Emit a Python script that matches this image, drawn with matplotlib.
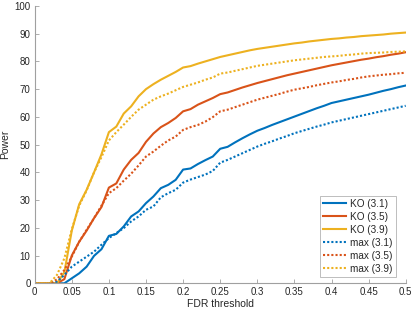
import numpy as np
import matplotlib
matplotlib.use("Agg")
import matplotlib.pyplot as plt

fdr = [round(0.01 * i, 2) for i in range(51)]

ko_31 = [0, 0, 0, 0, 0, 1.8, 3.6, 6, 9.9, 12.3, 17.1, 17.8, 20.5, 24.1, 25.9, 28.9, 31.3, 34.3, 35.5, 37.3,
         41, 41.4, 43, 44.4, 45.7, 48.5, 49.2, 50.8, 52.3, 53.7, 55, 56, 57.1, 58.1, 59.1, 60.1, 61.1, 62.1,
         63.1, 64, 65, 65.6, 66.2, 66.8, 67.4, 68, 68.7, 69.4, 70, 70.7, 71.3]
ko_35 = [0, 0, 0, 0, 1.5, 10, 15, 19, 23.5, 27.5, 34.5, 36, 41, 44.5, 47, 51, 54, 56.3, 57.8, 59.6,
         62, 62.8, 64.4, 65.6, 66.8, 68.2, 68.8, 69.7, 70.6, 71.4, 72.2, 72.9, 73.6, 74.3, 75, 75.6, 76.2,
         76.8, 77.4, 78, 78.6, 79.1, 79.6, 80.1, 80.6, 81, 81.5, 81.9, 82.4, 82.8, 83.3]
ko_39 = [0, 0, 0, 0, 4, 19, 28.5, 33.7, 40, 46.5, 54.5, 56.5, 61.2, 63.8, 67.4, 70, 71.8, 73.4, 74.8, 76.2,
         77.8, 78.3, 79.2, 80, 80.8, 81.6, 82.2, 82.8, 83.4, 84, 84.5, 84.9, 85.3, 85.7, 86.1, 86.5, 86.8,
         87.2, 87.5, 87.8, 88.1, 88.3, 88.6, 88.8, 89.1, 89.3, 89.5, 89.7, 90, 90.2, 90.4]
max_31 = [0, 0, 0, 0.6, 3, 6, 7.8, 9.6, 11.4, 13.9, 16.3, 18.1, 19.9, 22.3, 24.1, 26.5, 27.7, 31, 32.5, 33.7,
          36.3, 37.4, 38.3, 39.2, 40.5, 43.5, 44.5, 45.7, 46.9, 48.1, 49.3, 50.3, 51.2, 52.2, 53.1, 54.1,
          54.9, 55.7, 56.5, 57.2, 58, 58.6, 59.2, 59.8, 60.4, 61, 61.6, 62.2, 62.8, 63.4, 64]
max_35 = [0, 0, 0, 1.4, 4.8, 9.6, 15, 19.3, 23.5, 28, 32.5, 34.3, 37, 39.5, 42.5, 45.7, 47.5, 49.6, 51.5, 52.9,
          55.3, 56.3, 57.1, 58.3, 59.9, 62, 62.6, 63.5, 64.4, 65.3, 66.2, 66.9, 67.6, 68.3, 69.1, 69.8,
          70.3, 70.8, 71.4, 71.9, 72.4, 72.8, 73.3, 73.7, 74.2, 74.6, 74.9, 75.2, 75.4, 75.7, 75.9]
max_39 = [0, 0, 0, 3, 9, 19.5, 28, 33.5, 40, 45.5, 51.5, 54.5, 57.2, 60, 62.6, 64.4, 66.2, 67.4, 68.4, 69.6,
          70.8, 71.6, 72.4, 73.4, 74.2, 75.6, 76, 76.6, 77.2, 77.8, 78.4, 78.8, 79.2, 79.6, 80, 80.4, 80.7,
          81, 81.3, 81.6, 81.8, 82, 82.3, 82.5, 82.8, 83, 83.1, 83.2, 83.4, 83.5, 83.6]

labels = ["KO (3.1)", "KO (3.5)", "KO (3.9)", "max (3.1)", "max (3.5)", "max (3.9)"]
xticks = [0, 0.05, 0.1, 0.15, 0.2, 0.25, 0.3, 0.35, 0.4, 0.45, 0.5]
xticklabels = ["0", "0.05", "0.1", "0.15", "0.2", "0.25", "0.3", "0.35", "0.4", "0.45", "0.5"]
yticks = list(range(0, 101, 10))

colors = ["#0072BD", "#D95319", "#EDB120"]

plt.rcParams['font.family'] = ['Liberation Sans', 'DejaVu Sans']
fig = plt.figure(figsize=(4.15, 3.12), dpi=100)
ax = fig.add_axes([0.0836, 0.092, 0.894, 0.889])

series = [ko_31, ko_35, ko_39, max_31, max_35, max_39]
for i, (s, lab) in enumerate(zip(series, labels)):
    ls = '-' if i < 3 else (0, (1, 1))
    ax.plot(fdr, s, color=colors[i % 3], lw=1.5, ls=ls, label=lab)

ax.set_xlim(0, 0.5)
ax.set_ylim(0, 100)
ax.set_xticks(xticks)
ax.set_xticklabels(xticklabels)
ax.set_yticks(yticks)
for sp in ['top', 'right']:
    ax.spines[sp].set_visible(False)
for sp in ['left', 'bottom']:
    ax.spines[sp].set_color('#a0a0a0')
    ax.spines[sp].set_linewidth(0.8)
ax.tick_params(direction='in', length=3, width=0.6, color='#a0a0a0', labelsize=7, labelcolor='#262626', pad=3)
ax.set_xlabel("FDR threshold", fontsize=7.5, color='#262626', labelpad=1)
ax.set_ylabel("Power", fontsize=7.5, color='#262626', labelpad=3)

leg = ax.legend(loc='lower right', bbox_to_anchor=(0.973, 0.024), fontsize=7.2, frameon=True, fancybox=False,
                handlelength=2.3, labelspacing=0.3, borderaxespad=0.0, handletextpad=0.4, borderpad=0.3)
leg.get_frame().set_edgecolor('#a0a0a0')
leg.get_frame().set_linewidth(0.6)
for t in leg.get_texts():
    t.set_color('#262626')

fig.savefig("out.png", dpi=100)
